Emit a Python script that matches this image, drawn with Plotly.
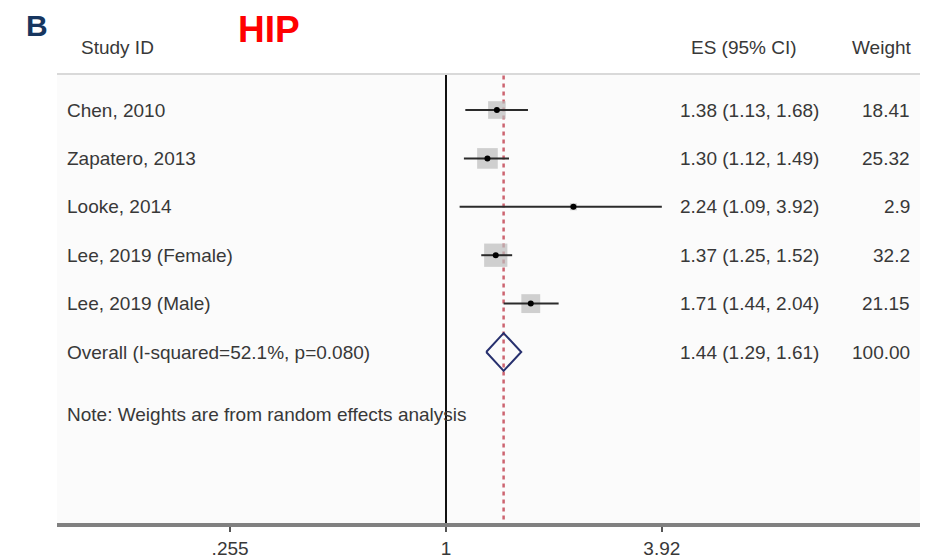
import math
import plotly.graph_objects as go

# ---- data ----
studies = ["Chen, 2010", "Zapatero, 2013", "Looke, 2014", "Lee, 2019 (Female)", "Lee, 2019 (Male)"]
es = [1.38, 1.30, 2.24, 1.37, 1.71]
ci_low = [1.13, 1.12, 1.09, 1.25, 1.44]
ci_high = [1.68, 1.49, 3.92, 1.52, 2.04]
weights = [18.41, 25.32, 2.9, 32.2, 21.15]
weight_labels = ["18.41", "25.32", "2.9", "32.2", "21.15"]

overall_label = "Overall (I-squared=52.1%, p=0.080)"
overall_es = 1.44
overall_low = 1.29
overall_high = 1.61
overall_weight_label = "100.00"

note_text = "Note: Weights are from random effects analysis"
tick_vals = [0.255, 1, 3.92]
tick_text = [".255", "1", "3.92"]

# ---- layout helpers (page body has an 8px margin) ----
OFF = 8
W, H = 933 - OFF, 559 - OFF
L, R, T, B = 57, 920, 74, 523   # plot area in page pixels
def px_x(px):
    return (px - L) / (R - L)
def px_y(py):
    return (B - py) / (B - T)

rows = list(range(1, len(studies) + 1))
overall_row = len(studies) + 1
note_row = 7.30
y_top, y_bot = 0.256, 9.533

FONT = "Liberation Sans, Arial, sans-serif"
TXT = "#383838"
FS = 19

fig = go.Figure()

# reference line at 1
fig.add_trace(go.Scatter(x=[1, 1], y=[y_top, y_bot], mode="lines",
                         line=dict(color="#111111", width=2), hoverinfo="skip"))
# overall dashed line
fig.add_trace(go.Scatter(x=[overall_es, overall_es], y=[y_top + 0.03, y_bot], mode="lines",
                         line=dict(color="#cc6470", width=2.5, dash="4px,4px"), hoverinfo="skip"))

# weight squares
fig.add_trace(go.Scatter(x=es, y=rows, mode="markers",
                         marker=dict(symbol="square", color="#bcbcbc",
                                     size=[4.1 * math.sqrt(w) for w in weights],
                                     line=dict(width=0)),
                         hoverinfo="skip"))
# CI lines
for i in range(len(studies)):
    fig.add_trace(go.Scatter(x=[ci_low[i], ci_high[i]], y=[rows[i], rows[i]], mode="lines",
                             line=dict(color="#2b2b2b", width=2), hoverinfo="skip"))
# point estimates
fig.add_trace(go.Scatter(x=es, y=rows, mode="markers",
                         marker=dict(symbol="circle", color="#000000", size=6),
                         hoverinfo="skip"))
# overall diamond
dh = 0.39
fig.add_trace(go.Scatter(x=[overall_low, overall_es, overall_high, overall_es, overall_low],
                         y=[overall_row, overall_row - dh, overall_row, overall_row + dh, overall_row],
                         mode="lines", line=dict(color="#27306e", width=2), hoverinfo="skip"))

ann = []
def add_text(text, x, y, xanchor="left", yref="y", yanchor="middle", size=FS, color=TXT,
             family=FONT, bold=False):
    t = f"<b>{text}</b>" if bold else text
    ann.append(dict(text=t, x=x, y=y, xref="paper", yref=yref, xanchor=xanchor,
                    yanchor=yanchor, showarrow=False, borderpad=0,
                    font=dict(size=size, color=color, family=family)))

for i, s in enumerate(studies):
    add_text(s, px_x(66), rows[i])
    add_text(f"{es[i]:.2f} ({ci_low[i]:.2f}, {ci_high[i]:.2f})", px_x(820), rows[i], xanchor="right")
    add_text(weight_labels[i], px_x(911), rows[i], xanchor="right")

add_text(overall_label, px_x(66), overall_row)
add_text(f"{overall_es:.2f} ({overall_low:.2f}, {overall_high:.2f})", px_x(820), overall_row, xanchor="right")
add_text(overall_weight_label, px_x(911), overall_row, xanchor="right")
add_text(note_text, px_x(66), note_row)

# headers
add_text("Study ID", px_x(80), px_y(48), yref="paper")
add_text("ES (95% CI)", px_x(798), px_y(48), xanchor="right", yref="paper")
add_text("Weight", px_x(913), px_y(48), xanchor="right", yref="paper")
add_text("B", px_x(25), px_y(OFF), yref="paper", yanchor="top", size=30, color="#17365f", bold=True)
add_text("HIP", px_x(237), px_y(OFF), yref="paper", yanchor="top", size=37, color="#ff0000", bold=True)

shapes = [
    dict(type="line", xref="paper", yref="paper", x0=0, x1=1, y0=1, y1=1,
         line=dict(color="#d9d9d9", width=2)),
]

px_per_log10 = 363.8
x_range = [(L - 446) / px_per_log10, (R - 446) / px_per_log10]

fig.update_layout(
    width=W, height=H,
    margin=dict(l=L - OFF, r=933 - R, t=T - OFF, b=559 - B, autoexpand=False),
    paper_bgcolor="white", plot_bgcolor="#fbfbfb",
    showlegend=False,
    annotations=ann, shapes=shapes,
    xaxis=dict(type="log", range=x_range, tickvals=tick_vals, ticktext=tick_text,
               showgrid=False, zeroline=False, showline=True, linecolor="#808080", linewidth=4,
               ticks="outside", ticklen=5, tickwidth=1.5, tickcolor="#555555", automargin=False,
               tickfont=dict(size=FS, color=TXT, family=FONT), fixedrange=True),
    yaxis=dict(range=[y_bot, y_top], visible=False, showgrid=False, zeroline=False,
               automargin=False, fixedrange=True),
)

fig.write_html("out.html")
